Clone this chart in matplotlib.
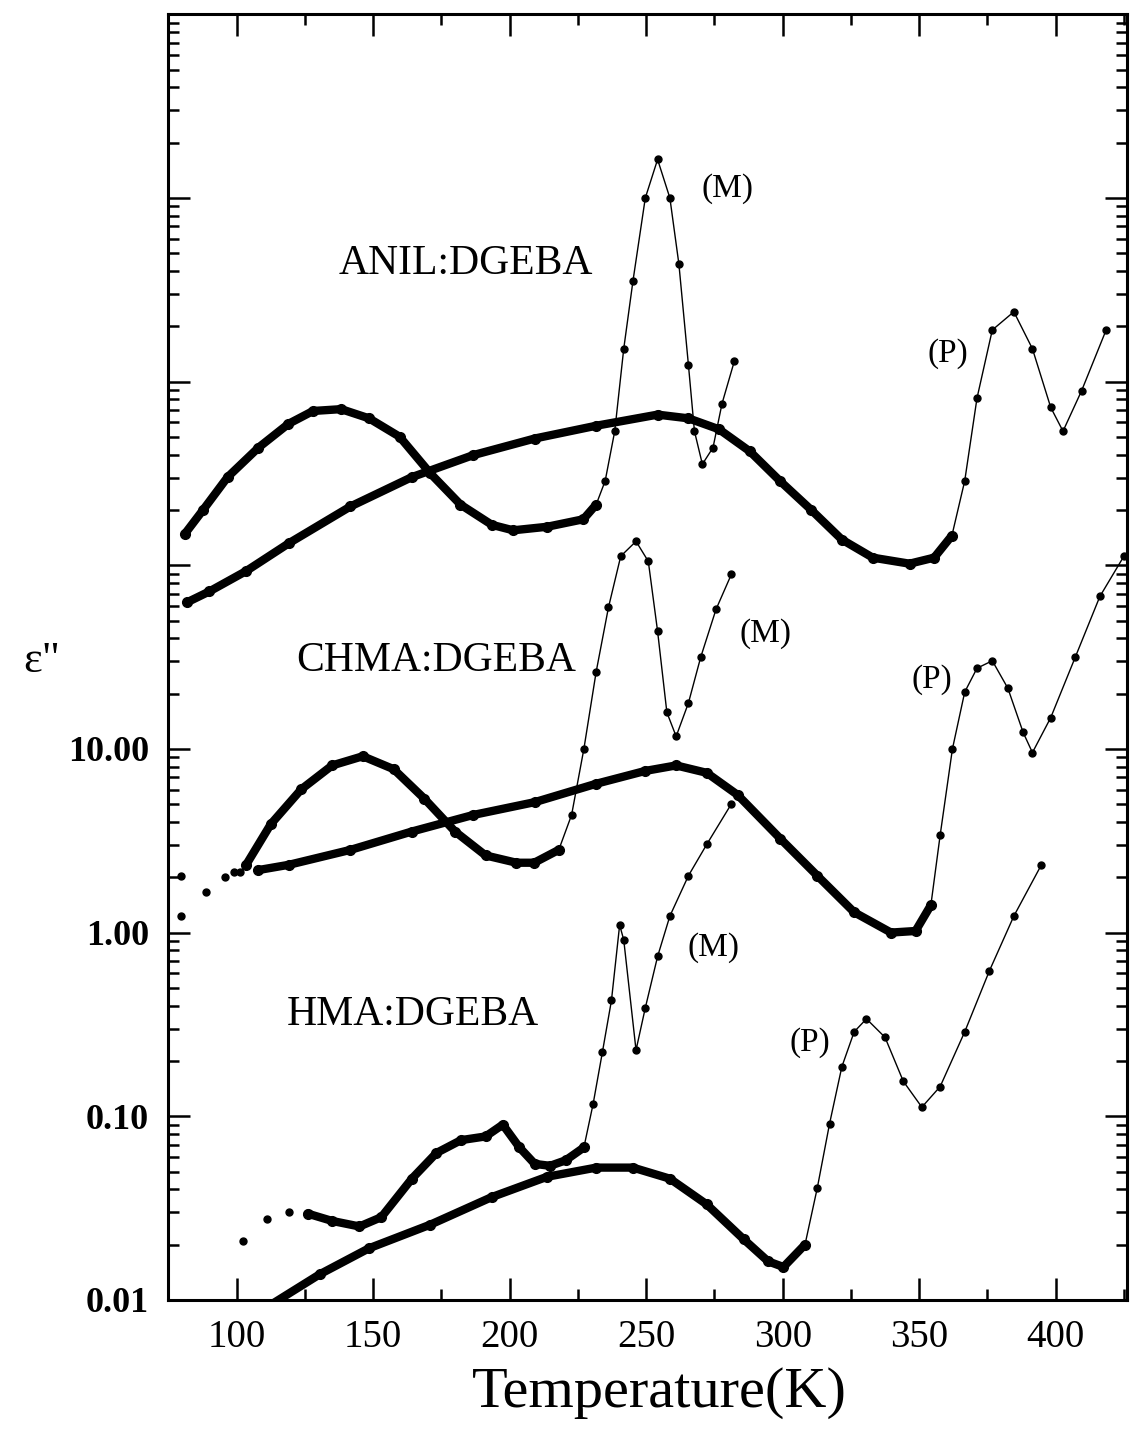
import numpy as np
import matplotlib
matplotlib.use("Agg")
import matplotlib.pyplot as plt
from matplotlib.ticker import LogLocator, FuncFormatter, MultipleLocator, NullFormatter

plt.rcParams['font.family'] = ['Liberation Serif', 'DejaVu Serif']

# ANIL:DGEBA - curve with the (M) peak
anil_m_T = [81, 87.7, 96.7, 108, 119, 128, 138.3, 148.5, 159.7, 171, 182, 193.5, 201.3, 213.7,
            227, 231.7, 235, 238.5, 241.8, 245.2, 249.7, 254.2, 258.7, 262, 265.5, 267.7,
            270.6, 274.5, 277.8, 282.3]
anil_m_e = [148, 200, 302, 437, 589, 692, 708, 631, 501, 316, 214, 166, 155, 162,
            178, 214, 288, 537, 1510, 3550, 10000, 16200, 10000, 4370, 1230, 537,
            355, 437, 759, 1290]
# ANIL:DGEBA - curve with the (P) peak
anil_p_T = [82, 90, 103.5, 119.2, 141.7, 164.2, 186.7, 209.2, 231.7, 254.2, 265.5, 276.7, 288,
            299, 310.5, 321.7, 333, 346.5, 355.5, 362, 366.7, 371.2, 376.8, 384.7, 391.5,
            398.2, 402.7, 409.5, 418.5]
anil_p_e = [63, 72, 93, 132, 209, 302, 398, 490, 575, 661, 631, 550, 417,
            288, 200, 138, 110, 102, 110, 145, 288, 813, 1910, 2400, 1510,
            724, 537, 891, 1910]

# CHMA:DGEBA
chma_m_T = [79.8, 99, 103.5, 112.5, 123.7, 135, 146.2, 157.5, 168.7, 180, 191.2, 202.5, 209,
            218, 222.7, 227.2, 231.7, 236.2, 240.7, 246.3, 250.8, 254.2, 257.6, 261, 265.5,
            270, 275.6, 281.2]
chma_m_e = [2.04, 2.14, 2.34, 3.89, 6.03, 8.13, 9.12, 7.76, 5.37, 3.55, 2.63, 2.40, 2.40,
            2.82, 4.37, 10.0, 26.3, 58.9, 112, 135, 105, 43.7, 15.8, 11.7, 17.8,
            31.6, 57.5, 89.1]
chma_p_T = [79.8, 88.8, 95.6, 101.2, 108, 119.2, 141.7, 164.2, 186.7, 209.2, 231.7, 249.7, 261,
            272.2, 283.5, 299.2, 312.7, 326.2, 339.7, 348.7, 354.3, 357.7, 362.2, 366.7, 371.2,
            376.8, 382.5, 388.1, 391.5, 398.2, 407.2, 416.2, 425]
chma_p_e = [1.23, 1.66, 2.0, 2.14, 2.19, 2.34, 2.82, 3.55, 4.37, 5.13, 6.46, 7.59, 8.13,
            7.41, 5.62, 3.24, 2.04, 1.29, 1.00, 1.02, 1.41, 3.39, 10.0, 20.4, 27.5,
            30.2, 21.4, 12.3, 9.55, 14.8, 31.6, 67.6, 112]

# HMA:DGEBA
hma_m_T = [102.3, 111.3, 119.2, 126, 135, 145, 153, 164.2, 173.2, 182.2, 191.2, 197.5, 203.6,
           209.2, 214.8, 220.5, 227.2, 230.6, 234, 237.3, 240.3, 241.8, 246.3, 249.7, 254.2,
           258.7, 265.5, 272.2, 281.2]
hma_m_e = [0.0209, 0.0275, 0.0302, 0.0295, 0.0269, 0.0251, 0.0282, 0.0457, 0.0631, 0.0741,
           0.0776, 0.0900, 0.0676, 0.0550, 0.0537, 0.0575, 0.0676, 0.117, 0.224, 0.427, 1.10,
           0.912, 0.229, 0.389, 0.741, 1.23, 2.04, 3.02, 5.01]
hma_p_T = [112, 130.5, 148.5, 171, 193.5, 213.7, 231.7, 245.2, 258.7, 272.2, 285.7, 294.7,
           300.3, 308.2, 312.7, 317.2, 321.7, 326.2, 330.7, 337.5, 344.2, 351, 357.7, 366.7,
           375.7, 384.7, 394.8]
hma_p_e = [0.0093, 0.0138, 0.0191, 0.0257, 0.0363, 0.0468, 0.0525, 0.0525, 0.0457, 0.0331,
           0.0214, 0.0162, 0.0151, 0.0200, 0.0407, 0.0912, 0.186, 0.288, 0.339, 0.269, 0.155,
           0.112, 0.145, 0.288, 0.617, 1.23, 2.34]

# T range of the densely sampled part of each curve (drawn as a thick band)
dense = {
    'anil_m': (81, 231.7), 'anil_p': (82, 362),
    'chma_m': (103.5, 218), 'chma_p': (108, 354.3),
    'hma_m': (126, 227.2), 'hma_p': (112, 308.2),
}
curves = {
    'anil_m': (anil_m_T, anil_m_e), 'anil_p': (anil_p_T, anil_p_e),
    'chma_m': (chma_m_T, chma_m_e), 'chma_p': (chma_p_T, chma_p_e),
    'hma_m': (hma_m_T, hma_m_e), 'hma_p': (hma_p_T, hma_p_e),
}

fig = plt.figure(figsize=(11.3, 14.3), dpi=100)
ax = fig.add_axes([0.149, 0.091, 0.848, 0.899])

for key, (T, e) in curves.items():
    T = np.array(T)
    e = np.array(e)
    lo, hi = dense[key]
    m = (T >= lo) & (T <= hi)
    tail = T >= hi
    # thin line only through the sparse part after the dense band
    ax.plot(T[tail], e[tail], '-', color='black', lw=1.0)
    ax.plot(T[~m], e[~m], 'o', color='black', ms=5)
    ax.plot(T[m], e[m], '-', color='black', lw=6, solid_capstyle='round')
    ax.plot(T[m], e[m], 'o', color='black', ms=7)

ax.set_yscale('log')
ax.set_xlim(75, 426)
ax.set_ylim(0.01, 1e5)

ax.xaxis.set_major_locator(MultipleLocator(50))
ax.xaxis.set_minor_locator(MultipleLocator(25))
ax.yaxis.set_major_locator(LogLocator(base=10, numticks=20))
ax.yaxis.set_minor_locator(LogLocator(base=10, subs=np.arange(2, 10), numticks=20))
ax.yaxis.set_minor_formatter(NullFormatter())
ax.yaxis.set_major_formatter(FuncFormatter(lambda v, p: f'{v:.2f}' if v <= 10.5 else ''))

ax.tick_params(which='both', direction='in', top=True, right=True, width=1.8)
ax.tick_params(which='major', length=16)
ax.tick_params(which='minor', length=8)
ax.tick_params(axis='x', which='major', labelsize=28, pad=14)
ax.tick_params(axis='y', which='major', labelsize=26, pad=14)
for lab in ax.get_yticklabels():
    lab.set_fontweight('bold')
for s in ax.spines.values():
    s.set_linewidth(2.2)

txt = dict(fontsize=30, ha='center', va='center')
ax.text(184, 10 ** 3.64, 'ANIL:DGEBA', **txt)
ax.text(173, 10 ** 1.48, 'CHMA:DGEBA', **txt)
ax.text(164.6, 10 ** -0.45, 'HMA:DGEBA', **txt)
lab = dict(fontsize=24, ha='center', va='center')
ax.text(279.7, 10 ** 4.05, '(M)', **lab)
ax.text(360.5, 10 ** 3.15, '(P)', **lab)
ax.text(293.6, 10 ** 1.63, '(M)', **lab)
ax.text(354.7, 10 ** 1.38, '(P)', **lab)
ax.text(274.6, 10 ** -0.08, '(M)', **lab)
ax.text(310, 10 ** -0.60, '(P)', **lab)

fig.text(0.037, 0.538, 'ε"', fontsize=32, ha='center', va='center')
fig.text(0.584, 0.016, 'Temperature(K)', fontsize=42, ha='center', va='baseline')

fig.savefig('out.png', dpi=100)
